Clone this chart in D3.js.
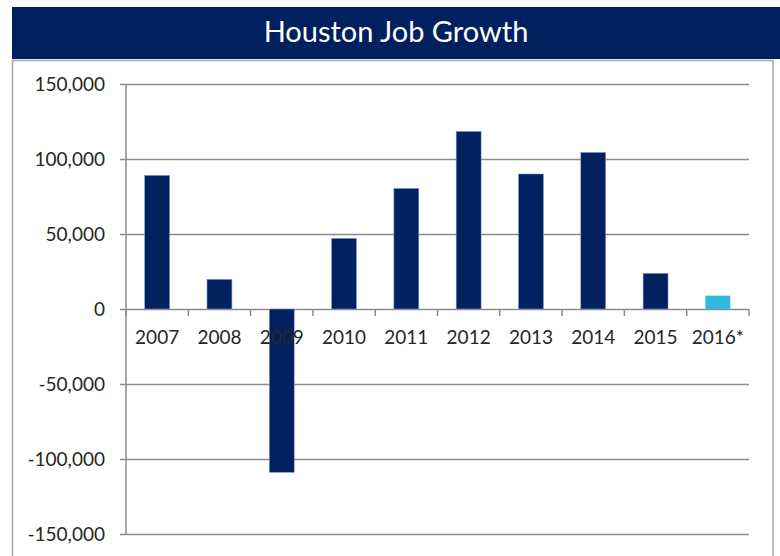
<!DOCTYPE html>
<html>
<head>
<meta charset="utf-8">
<script src="https://cdn.jsdelivr.net/npm/d3@7/dist/d3.min.js"></script>
<style>
  html, body { margin: 0; padding: 0; background: #ffffff; }
  svg { display: block; }
  text { font-family: Lato, "Open Sans", sans-serif; }
</style>
</head>
<body>
<svg id="chart" width="780" height="556"></svg>
<script>
// Annual net job change for the Houston metro area
const years = ["2007", "2008", "2009", "2010", "2011", "2012", "2013", "2014", "2015", "2016*"];
const jobs = [89100, 19800, -108900, 47100, 80400, 118400, 90000, 104400, 23800, 8900];
const forecast = [false, false, false, false, false, false, false, false, false, true];
const yTicks = [-150000, -100000, -50000, 0, 50000, 100000, 150000];
const title = "Houston Job Growth";

const navy = "#002060";
const lightBlue = "#31b8df";
const gridColor = "#8c8c8c";
const textColor = "#262626";

// Thousands separator with a plain hyphen for negatives
const fmt = d3.formatLocale({ decimal: ".", thousands: ",", grouping: [3], currency: ["$", ""], minus: "-" }).format(",");

const svg = d3.select("#chart");

// Title banner
svg.append("rect")
  .attr("x", 12).attr("y", 7)
  .attr("width", 768).attr("height", 52)
  .attr("fill", navy);
svg.append("text")
  .attr("x", 396).attr("y", 42)
  .attr("text-anchor", "middle")
  .attr("fill", "#ffffff")
  .attr("font-size", 29)
  .text(title);

// Chart frame
svg.append("path")
  .attr("d", "M12.5,560 V60.5 H773 V560")
  .attr("fill", "none")
  .attr("stroke", "#a6a6a6")
  .attr("stroke-width", 1.5);

const plotLeft = 126, plotRight = 749, plotTop = 84, plotBottom = 534;

const x = d3.scaleBand()
  .domain(years)
  .range([plotLeft, plotRight])
  .paddingInner(0.6)
  .paddingOuter(0.3);

const y = d3.scaleLinear()
  .domain([-150000, 150000])
  .range([plotBottom, plotTop]);

// Horizontal gridlines with left tick marks and value labels
const yAxis = svg.append("g")
  .attr("transform", `translate(${plotLeft},0)`)
  .call(d3.axisLeft(y)
    .tickValues(yTicks)
    .tickFormat(fmt)
    .tickSizeInner(-(plotRight - plotLeft))
    .tickSizeOuter(0)
    .tickPadding(21));
yAxis.select(".domain").remove();
yAxis.selectAll(".tick line")
  .attr("x1", -6)
  .attr("stroke", gridColor)
  .attr("stroke-width", 1.5);
yAxis.selectAll(".tick text")
  .attr("fill", textColor)
  .attr("font-size", 19)
  .attr("font-family", "Lato, 'Open Sans', sans-serif");

// Vertical axis line
svg.append("line")
  .attr("x1", plotLeft).attr("x2", plotLeft)
  .attr("y1", plotTop).attr("y2", plotBottom)
  .attr("stroke", gridColor)
  .attr("stroke-width", 1.5);

// Bars
svg.append("g")
  .selectAll("rect")
  .data(years)
  .join("rect")
  .attr("x", d => x(d))
  .attr("width", x.bandwidth())
  .attr("y", (d, i) => y(Math.max(0, jobs[i])))
  .attr("height", (d, i) => Math.abs(y(jobs[i]) - y(0)))
  .attr("fill", (d, i) => forecast[i] ? lightBlue : navy)
  .attr("stroke", (d, i) => forecast[i] ? "none" : "#8e9cc0")
  .attr("stroke-width", 0.6);

// Category axis along zero
const step = x.step();
const xAxis = svg.append("g")
  .attr("transform", `translate(0,${y(0)})`);
xAxis.selectAll("line.sep")
  .data(d3.range(years.length + 1))
  .join("line")
  .attr("class", "sep")
  .attr("x1", i => plotLeft + i * step)
  .attr("x2", i => plotLeft + i * step)
  .attr("y1", 0).attr("y2", 7)
  .attr("stroke", gridColor)
  .attr("stroke-width", 1.5);
xAxis.selectAll("text")
  .data(years)
  .join("text")
  .attr("x", d => x(d) + x.bandwidth() / 2)
  .attr("y", 35)
  .attr("text-anchor", "middle")
  .attr("fill", textColor)
  .attr("font-size", 19)
  .text(d => d);
</script>
</body>
</html>
